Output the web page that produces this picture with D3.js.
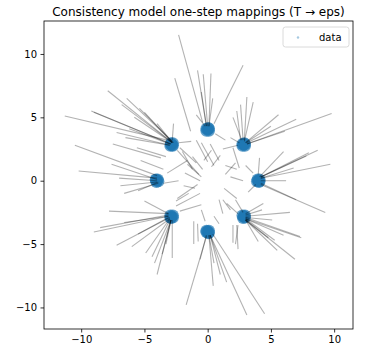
<!DOCTYPE html>
<html><head><meta charset="utf-8">
<script src="https://cdn.jsdelivr.net/npm/d3@7"></script>
<style>body{margin:0;background:#fff}svg{display:block;font-family:"DejaVu Sans",sans-serif}</style>
</head><body><svg id="c" width="367" height="356"></svg>
<script>
const title = "Consistency model one-step mappings (T \u2192 eps)";
const xTicks = [-10, -5, 0, 5, 10];
const yTicks = [-10, -5, 0, 5, 10];
const legendLabel = "data";
// data samples (clustered around 8 modes)
const dataPts = [
 [-2.9,2.85],[-2.75,2.95],[-2.95,2.75],[-2.75,2.75],[-2.9,2.95],[-2.8,2.8],
 [0.0,4.05],[0.1,3.95],[-0.1,4.1],[0.05,4.15],[-0.1,3.95],[0.1,4.1],
 [2.85,2.85],[2.95,2.75],[2.75,2.9],[2.9,2.95],[2.75,2.75],[2.95,2.9],
 [4.0,0.0],[4.1,0.1],[3.9,-0.05],[4.05,-0.1],[3.95,0.1],[4.1,-0.05],
 [2.85,-2.85],[2.75,-2.75],[2.95,-2.9],[2.8,-2.95],[2.95,-2.75],[2.85,-2.8],
 [0.0,-4.0],[0.1,-4.1],[-0.1,-3.95],[0.05,-4.15],[-0.1,-4.05],[0.1,-3.95],
 [-2.85,-2.85],[-2.95,-2.75],[-2.75,-2.9],[-2.9,-2.95],[-2.75,-2.75],[-2.95,-2.9],
 [-4.0,0.0],[-4.1,0.1],[-3.9,-0.05],[-4.05,-0.1],[-3.95,0.1],[-4.1,0.05]
];
// one-step mappings: [x_T, y_T, x_eps, y_eps]
const mappings = [
 [-11.3,5.1,-3.2,3.2],[-9.2,5.5,-2.9,2.9],[-7.9,7.1,-2.8,3.0],[-6.4,6.5,-2.7,3.0],
 [-5.4,5.7,-2.8,3.1],[-7.2,3.8,-3.0,2.8],[-6.2,4.1,-3.0,2.9],[-5.0,5.4,-2.9,3.1],
 [-2.7,4.5,-2.8,3.2],[-7.5,2.9,-3.7,1.8],[-5.6,2.6,-3.3,1.9],[-2.4,2.4,-0.7,0.5],
 [-2.2,2.6,-0.9,1.4],[-2.0,2.3,-1.2,0.9],[-2.3,3.0,-1.3,3.1],
 [-9.0,5.4,-2.9,2.9],[-6.8,6.0,-2.8,3.0],[-5.8,5.0,-2.8,3.0],[-4.0,4.5,-2.8,3.0],[-6.5,3.4,-3.0,2.8],
 [-2.3,11.5,-0.4,4.6],[-0.8,8.7,-0.1,4.3],[-0.35,8.4,0.0,4.3],[0.26,8.45,0.1,4.3],
 [2.8,9.1,0.5,4.5],[-2.6,8.1,-1.35,3.9],[0.6,3.7,1.4,3.2],[-0.9,5.2,-0.2,4.3],
 [-0.5,7.0,-0.1,4.3],[0.4,6.5,0.1,4.3],
 [-0.9,3.2,0.0,1.5],[-0.5,3.0,0.5,1.2],[0.2,2.9,0.9,1.6],
 [3.1,6.6,2.9,3.2],[2.3,5.5,2.6,3.2],[2.6,6.0,2.8,3.2],[5.6,5.2,3.0,3.0],
 [7.0,4.85,3.1,3.0],[9.8,5.3,3.1,2.9],[6.1,3.9,3.1,2.9],[1.2,2.5,2.4,2.8],
 [1.8,3.4,2.5,3.0],[2.0,2.6,2.5,1.0],[1.4,1.2,2.3,0.9],
 [3.6,6.2,2.9,3.1],[2.0,5.0,2.7,3.2],[5.0,4.3,3.0,3.0],
 [8.7,2.4,4.2,0.3],[9.7,1.3,4.2,0.2],[7.8,1.95,4.2,0.3],[6.0,2.3,4.1,0.3],
 [4.1,1.8,4.0,0.5],[9.3,-2.5,4.2,-0.3],[6.2,0.0,4.2,0.0],[7.0,-1.5,4.2,-0.2],
 [3.0,1.2,3.6,0.6],[3.2,-0.9,3.8,-0.3],[8.0,2.2,4.2,0.3],[6.8,1.0,4.2,0.2],
 [7.4,-4.5,3.0,-3.0],[7.3,-4.4,3.0,-2.9],[6.9,-6.2,3.0,-3.1],[5.3,-4.7,3.0,-3.0],[6.5,-2.5,3.0,-2.8],
 [5.1,-3.1,3.0,-2.9],[4.4,-1.8,3.0,-2.6],[5.5,-5.5,3.0,-3.1],[4.3,-2.3,3.0,-2.7],
 [2.2,-1.5,2.8,-2.5],[1.5,-1.8,2.4,-2.6],
 [6.0,-4.3,3.0,-3.0],[4.8,-4.5,3.0,-3.1],[4.0,-4.8,3.0,-3.1],
 [3.1,-10.6,0.2,-4.3],[4.5,-10.5,0.4,-4.2],[0.44,-8.3,0.1,-4.3],[1.0,-7.4,0.2,-4.3],
 [-1.7,-9.8,-0.1,-4.4],[-0.6,-6.2,-0.1,-4.3],[2.0,-3.5,2.0,-4.9],[2.4,-3.5,2.2,-5.0],
 [2.3,-3.5,2.4,-5.4],[0.9,-3.4,0.5,-2.8],[0.5,-6.5,0.1,-4.3],[1.5,-8.0,0.2,-4.3],
 [-9.0,-4.05,-3.1,-2.8],[-8.5,-3.7,-3.1,-2.7],[-7.2,-5.1,-3.0,-2.9],[-7.8,-2.4,-3.1,-2.6],
 [-4.0,-7.4,-2.9,-3.1],[-4.9,-5.7,-3.0,-3.0],[-4.4,-6.0,-3.0,-3.1],[-2.8,-6.1,-2.8,-3.1],
 [-5.0,-1.6,-3.1,-2.6],[-3.3,-5.0,-2.9,-3.1],[-5.5,-4.2,-3.1,-2.9],
 [-6.0,-5.2,-3.0,-3.0],[-4.2,-6.5,-2.9,-3.1],[-6.6,-3.3,-3.1,-2.8],[-3.6,-5.8,-2.9,-3.1],
 [-2.4,-1.4,-0.8,-0.3],[-2.5,-2.0,-0.6,-1.0],[-2.2,-2.4,-0.5,-1.9],
 [-1.1,-3.2,-1.1,-5.0],[-0.8,-3.4,-0.75,-4.8],
 [-10.5,2.8,-4.0,0.4],[-10.2,0.77,-4.0,0.2],[-6.9,-0.4,-4.0,-0.1],[-6.6,-1.0,-3.9,-0.2],
 [-5.3,1.6,-3.5,0.9],[-7.6,1.3,-4.0,0.1],[-3.5,-0.2,-2.3,0.0],[-3.2,0.6,-1.6,1.6],
 [-7.0,0.2,-4.0,0.0],[-5.5,-0.8,-3.9,-0.1],
 [-1.6,1.3,-0.5,0.3],[-1.8,0.6,-0.6,0.0],[1.3,-0.6,2.3,-1.4],[0.9,-1.5,1.2,-2.6],
 [-0.5,-2.3,-0.2,-3.2],[1.8,0.3,2.8,0.0],[-1.5,-1.0,-2.5,-1.6],[0.3,2.4,-0.3,1.6],
 [-1.2,1.9,-0.4,0.9],[1.0,2.0,0.3,1.1],[1.8,-2.3,1.2,-1.5],[-1.9,-0.4,-1.0,-0.6],[2.2,1.4,1.4,0.5]
];

const L = 44, R = 353, T = 21, B = 329;
const x = d3.scaleLinear().domain([-12.94, 11.49]).range([L, R]);
const y = d3.scaleLinear().domain([-11.7, 12.6]).range([B, T]);
const svg = d3.select("#c");

svg.append("text").attr("x", (L + R) / 2).attr("y", 16).attr("text-anchor", "middle")
  .attr("font-size", 12).attr("fill", "#000").text(title);

svg.append("defs").append("clipPath").attr("id", "clip")
  .append("rect").attr("x", L).attr("y", T).attr("width", R - L).attr("height", B - T);
const plot = svg.append("g").attr("clip-path", "url(#clip)");

plot.selectAll("circle.d").data(dataPts).join("circle").attr("class", "d")
  .attr("cx", d => x(d[0])).attr("cy", d => y(d[1])).attr("r", 6)
  .attr("fill", "#1f77b4").attr("fill-opacity", 0.7);

plot.selectAll("line.m").data(mappings).join("line").attr("class", "m")
  .attr("x1", d => x(d[0])).attr("y1", d => y(d[1]))
  .attr("x2", d => x(d[2])).attr("y2", d => y(d[3]))
  .attr("stroke", "#000").attr("stroke-opacity", 0.3).attr("stroke-width", 1.1);

const xa = svg.append("g").attr("transform", `translate(0,${B})`)
  .call(d3.axisBottom(x).tickValues(xTicks).tickSize(3.5).tickPadding(3.5));
const ya = svg.append("g").attr("transform", `translate(${L},0)`)
  .call(d3.axisLeft(y).tickValues(yTicks).tickSize(3.5).tickPadding(3.5));
[xa, ya].forEach(a => {
  a.select(".domain").remove();
  a.selectAll("line").attr("stroke", "#000").attr("stroke-width", 0.8);
  a.selectAll("text").attr("font-size", 10).attr("fill", "#000").attr("font-family", "DejaVu Sans");
});

svg.append("rect").attr("x", L).attr("y", T).attr("width", R - L).attr("height", B - T)
  .attr("fill", "none").attr("stroke", "#000").attr("stroke-width", 0.8);

const lg = svg.append("g");
lg.append("rect").attr("x", 283).attr("y", 27).attr("width", 66).attr("height", 20)
  .attr("rx", 2.5).attr("fill", "#fff").attr("fill-opacity", 0.8)
  .attr("stroke", "#d0d0d0").attr("stroke-width", 0.8);
lg.append("circle").attr("cx", 298).attr("cy", 37.5).attr("r", 1.2)
  .attr("fill", "#1f77b4").attr("fill-opacity", 0.4);
lg.append("text").attr("x", 319).attr("y", 41).attr("font-size", 10).attr("fill", "#000").text(legendLabel);
</script></body></html>
